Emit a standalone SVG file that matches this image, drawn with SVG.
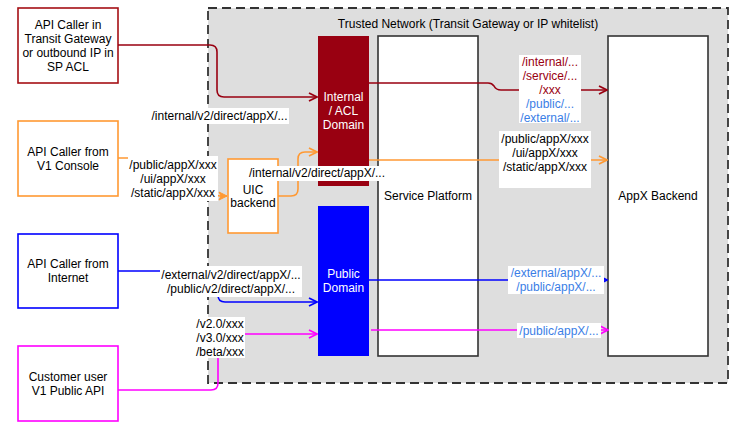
<svg xmlns="http://www.w3.org/2000/svg" width="737" height="430" viewBox="0 0 737 430">
<style>
text{font-family:"Liberation Sans",Arial,sans-serif;font-size:12px;fill:#000;text-anchor:middle;dominant-baseline:central}
.w{fill:#fff}
.bl{fill:#3a7ee6}
.rd{fill:#990011}
.lbl{fill:#fff}
.e{fill:none;stroke-width:1.6}
.node{fill:#fff;stroke-width:1.6}
</style>
<defs>
<marker id="aR" viewBox="0 0 10 10" refX="9" refY="5" markerWidth="10" markerHeight="10" markerUnits="userSpaceOnUse" orient="auto"><path d="M1,1 L9,5 L1,9" fill="none" stroke="#990011" stroke-width="1.8"/></marker>
<marker id="aO" viewBox="0 0 10 10" refX="9" refY="5" markerWidth="10" markerHeight="10" markerUnits="userSpaceOnUse" orient="auto"><path d="M1,1 L9,5 L1,9" fill="none" stroke="#ff9933" stroke-width="1.8"/></marker>
<marker id="aOf" viewBox="0 0 10 10" refX="9" refY="5" markerWidth="10" markerHeight="10" markerUnits="userSpaceOnUse" orient="auto"><path d="M1,1 L9,5 L1,9 L3,5 Z" fill="#ff9933" stroke="#ff9933" stroke-width="1"/></marker>
<marker id="aB" viewBox="0 0 10 10" refX="9" refY="5" markerWidth="10" markerHeight="10" markerUnits="userSpaceOnUse" orient="auto"><path d="M1,1 L9,5 L1,9" fill="none" stroke="#0000ff" stroke-width="1.8"/></marker>
<marker id="aM" viewBox="0 0 10 10" refX="9" refY="5" markerWidth="10" markerHeight="10" markerUnits="userSpaceOnUse" orient="auto"><path d="M1,1 L9,5 L1,9" fill="none" stroke="#ff00ff" stroke-width="1.8"/></marker>
</defs>
<rect width="737" height="430" fill="#fff"/>

<g id="trusted-network">
<rect x="208" y="8" width="520" height="375" fill="#dedede" stroke="#333" stroke-width="1.8" stroke-dasharray="9 5"/>
<text x="468" y="24">Trusted Network (Transit Gateway or IP whitelist)</text>
</g>

<g id="caller-transit">
<rect class="node" x="18" y="8" width="100" height="75" stroke="#a50f15"/>
<text x="68" y="25">API Caller in</text>
<text x="68" y="39">Transit Gateway</text>
<text x="68" y="53">or outbound IP in</text>
<text x="68" y="67">SP ACL</text>
</g>
<g id="caller-console">
<rect class="node" x="18" y="121" width="100" height="75" stroke="#ff9933"/>
<text x="68" y="152">API Caller from</text>
<text x="68" y="166">V1 Console</text>
</g>
<g id="caller-internet">
<rect class="node" x="18" y="234" width="100" height="74" stroke="#0000ff"/>
<text x="68" y="264">API Caller from</text>
<text x="68" y="278">Internet</text>
</g>
<g id="customer-user">
<rect class="node" x="18" y="346" width="100" height="75" stroke="#ff00ff"/>
<text x="68" y="377">Customer user</text>
<text x="68" y="391">V1 Public API</text>
</g>

<g id="internal-domain">
<rect x="318" y="36" width="51" height="150" fill="#990011"/>
<text class="w" x="343.5" y="97">Internal</text>
<text class="w" x="343.5" y="111">/ ACL</text>
<text class="w" x="343.5" y="125">Domain</text>
</g>
<g id="public-domain">
<rect x="318" y="206" width="51" height="150" fill="#0000ff"/>
<text class="w" x="343.5" y="274">Public</text>
<text class="w" x="343.5" y="288">Domain</text>
</g>
<g id="service-platform">
<rect x="378" y="36" width="100" height="320" fill="#fff" stroke="#333" stroke-width="1.6"/>
<text x="428" y="196">Service Platform</text>
</g>
<g id="appx-backend">
<rect x="608" y="36" width="100" height="320" fill="#fff" stroke="#333" stroke-width="1.6"/>
<text x="658" y="196">AppX Backend</text>
</g>
<g id="uic-backend">
<rect class="node" x="228" y="159" width="50" height="74" stroke="#ff9933"/>
<text x="253" y="190">UIC</text>
<text x="253" y="203">backend</text>
</g>

<g id="connectors">
<path class="e" stroke="#990011" d="M118,45 H210 Q217,45 217,52 V90 Q217,97 224,97 H317" marker-end="url(#aR)"/>
<path class="e" stroke="#990011" d="M369,83 H488 Q492,83 494,86 Q496,90 501,90 H607" marker-end="url(#aR)"/>
<path class="e" stroke="#ff9933" d="M118,158 H206 Q213,158 213,165 V189 Q213,196 220,196 H227" marker-end="url(#aOf)"/>
<path class="e" stroke="#ff9933" d="M278,196 H291 Q298,196 298,189 V159 Q298,152 305,152 H317" marker-end="url(#aO)"/>
<path class="e" stroke="#ff9933" d="M369,160 H607" marker-end="url(#aO)"/>
<path class="e" stroke="#0000ff" d="M118,271 H211 Q218,271 218,278 V295 Q218,302 225,302 H317" marker-end="url(#aB)"/>
<path class="e" stroke="#0000ff" d="M369,280 H607" marker-end="url(#aB)"/>
<path class="e" stroke="#ff00ff" d="M118,390 H211 Q218,390 218,383 V341 Q218,334 225,334 H317" marker-end="url(#aM)"/>
<path class="e" stroke="#ff00ff" d="M371,330 H608" marker-end="url(#aM)"/>

<g id="labels">
<rect class="lbl" x="150" y="108" width="139" height="16"/>
<text x="219.5" y="116">/internal/v2/direct/appX/...</text>

<rect class="lbl" x="519" y="55" width="62" height="68"/>
<text class="rd" x="550" y="62">/internal/...</text>
<text class="rd" x="550" y="76">/service/...</text>
<text class="rd" x="550" y="90">/xxx</text>
<text class="bl" x="550" y="104">/public/...</text>
<text class="bl" x="550" y="118">/external/...</text>

<rect class="lbl" x="128" y="156" width="90" height="45"/>
<text x="173" y="165">/public/appX/xxx</text>
<text x="173" y="179">/ui/appX/xxx</text>
<text x="173" y="193">/static/appX/xxx</text>

<rect class="lbl" x="248" y="166" width="138" height="15"/>
<text x="317" y="173">/internal/v2/direct/appX/...</text>

<rect class="lbl" x="499" y="131" width="92" height="57"/>
<text x="545" y="139">/public/appX/xxx</text>
<text x="545" y="153">/ui/appX/xxx</text>
<text x="545" y="167">/static/appX/xxx</text>

<rect class="lbl" x="160" y="266" width="142" height="31"/>
<text x="231" y="275">/external/v2/direct/appX/...</text>
<text x="231" y="289">/public/v2/direct/appX/...</text>

<rect class="lbl" x="508" y="266" width="96" height="28"/>
<text class="bl" x="556" y="273">/external/appX/...</text>
<text class="bl" x="556" y="287">/public/appX/...</text>

<rect class="lbl" x="195" y="317" width="50" height="41"/>
<text x="220" y="324">/v2.0/xxx</text>
<text x="220" y="338">/v3.0/xxx</text>
<text x="220" y="352">/beta/xxx</text>

<rect class="lbl" x="517" y="323" width="84" height="15"/>
<text class="bl" x="559" y="331">/public/appX/...</text>
</g>
</g>
</svg>
